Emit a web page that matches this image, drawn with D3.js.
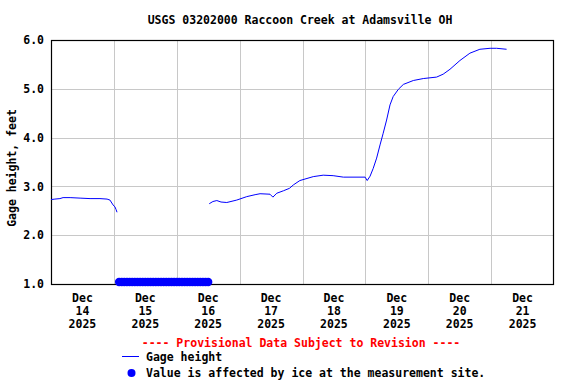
<!DOCTYPE html>
<html><head><meta charset="utf-8">
<script src="https://cdn.jsdelivr.net/npm/d3@7"></script>
<style>
html,body{margin:0;padding:0;background:#fff;}
svg text{font-family:"DejaVu Sans Mono",monospace;font-weight:bold;font-size:11.5px;}
</style></head>
<body>
<script>
// Data: hours since 2025-12-14 00:00 and gage height (feet)
const seg1Hours = [0, 1.5, 3.4, 4.6, 7.3, 11.1, 14.9, 18.7, 21.4, 22.5, 23.7, 24.4, 24.8, 25.2];
const seg1Values = [2.73, 2.74, 2.75, 2.77, 2.77, 2.76, 2.75, 2.75, 2.74, 2.72, 2.62, 2.58, 2.53, 2.47];
const seg2Hours = [60.4, 61.8, 63.3, 64.9, 67.1, 70.9, 74.7, 77.9, 79.8, 83.6, 84.7, 86.2, 88.7, 91.0, 92.5, 95.0, 100.1, 103.9, 107.7, 111.6, 119.9, 120.7, 121.8, 123.0, 124.3, 125.6, 126.8, 128.1, 129.4, 130.6, 132.6, 134.5, 138.3, 142.1, 147.2, 149.7, 152.3, 156.1, 159.9, 163.7, 167.6, 170.1, 173.9];
const seg2Values = [2.645, 2.69, 2.71, 2.68, 2.67, 2.72, 2.79, 2.83, 2.85, 2.84, 2.78, 2.86, 2.91, 2.96, 3.03, 3.12, 3.20, 3.23, 3.22, 3.19, 3.19, 3.12, 3.21, 3.37, 3.58, 3.85, 4.09, 4.36, 4.67, 4.84, 4.99, 5.09, 5.17, 5.21, 5.24, 5.30, 5.40, 5.58, 5.73, 5.81, 5.83, 5.83, 5.81];
const iceHours = [26, 27, 28, 29, 30, 31, 32, 33, 34, 35, 36, 37, 38, 39, 40, 41, 42, 43, 44, 45, 46, 47, 48, 49, 50, 51, 52, 53, 54, 55, 56, 57, 58, 59, 60];
const iceValue = 1.0;
const dayLabels = ["14", "15", "16", "17", "18", "19", "20", "21"];
const monthLabel = "Dec";
const yearLabel = "2025";
const yTicks = [1.0, 2.0, 3.0, 4.0, 5.0, 6.0];
const title = "USGS 03202000 Raccoon Creek at Adamsville OH";
const yLabel = "Gage height, feet";

const W = 576, H = 384;
const m = {l: 51, r: 554, t: 40, b: 284};
const t0 = Date.UTC(2025, 11, 14);
const toDate = h => new Date(t0 + h * 3600000);

const svg = d3.select("body").append("svg").attr("width", W).attr("height", H);

const x = d3.scaleUtc().domain([toDate(0), toDate(192)]).range([m.l, m.r]);
const y = d3.scaleLinear().domain([1, 6]).range([m.b, m.t]);

// grid
const dayTicks = d3.range(1, 8).map(d => toDate(d * 24));
svg.append("g").selectAll("line").data(dayTicks).join("line")
  .attr("x1", d => Math.round(x(d)) + 0.5).attr("x2", d => Math.round(x(d)) + 0.5)
  .attr("y1", m.t).attr("y2", m.b).attr("stroke", "#c8c8c8").attr("stroke-width", 1);
svg.append("g").selectAll("line").data(yTicks.slice(1, -1)).join("line")
  .attr("x1", m.l).attr("x2", m.r)
  .attr("y1", d => Math.round(y(d)) + 0.5).attr("y2", d => Math.round(y(d)) + 0.5)
  .attr("stroke", "#c8c8c8").attr("stroke-width", 1);

// frame
svg.append("rect").attr("x", m.l + 0.5).attr("y", m.t + 0.5)
  .attr("width", m.r - m.l - 1).attr("height", m.b - m.t)
  .attr("fill", "none").attr("stroke", "#000").attr("stroke-width", 1.2);

// y axis labels
const yAxis = d3.axisLeft(y).tickValues(yTicks).tickSize(0).tickPadding(7).tickFormat(d3.format(".1f"));
const ga = svg.append("g").attr("transform", `translate(${m.l},0)`).call(yAxis);
ga.select(".domain").remove();
ga.selectAll("text").attr("fill", "#000").style("font-family", "DejaVu Sans Mono").style("font-size", "11.5px").style("font-weight", "bold");

// x axis labels (noon of each day)
const labelDates = dayLabels.map((d, i) => toDate(i * 24 + 12));
const xl = svg.append("g").selectAll("text").data(labelDates).join("text")
  .attr("x", d => x(d)).attr("y", 302).attr("text-anchor", "middle").attr("fill", "#000");
xl.append("tspan").attr("x", d => x(d)).attr("dy", 0).text(monthLabel);
xl.append("tspan").attr("x", d => x(d)).attr("dy", 13).text((d, i) => dayLabels[i]);
xl.append("tspan").attr("x", d => x(d)).attr("dy", 13).text(yearLabel);

// ice points
svg.append("g").selectAll("circle").data(iceHours).join("circle")
  .attr("cx", d => x(toDate(d))).attr("cy", y(iceValue) - 2).attr("r", 4.2).attr("fill", "#0000ff");

// line segments
const line = d3.line().x(d => x(toDate(d[0]))).y(d => y(d[1]));
[[seg1Hours, seg1Values], [seg2Hours, seg2Values]].forEach(([hs, vs]) => {
  svg.append("path").datum(hs.map((h, i) => [h, vs[i]]))
    .attr("d", line).attr("fill", "none").attr("stroke", "#0000ff").attr("stroke-width", 1);
});

// title
svg.append("text").attr("x", 300).attr("y", 24).attr("text-anchor", "middle").attr("fill", "#000").text(title);

// y label
svg.append("text").attr("transform", "translate(16,168) rotate(-90)").attr("text-anchor", "middle").attr("fill", "#000").text(yLabel);

// legend
svg.append("text").attr("x", 301).attr("y", 347).attr("text-anchor", "middle").attr("fill", "#ff0000")
  .text("---- Provisional Data Subject to Revision ----");
svg.append("line").attr("x1", 122).attr("x2", 139).attr("y1", 356.5).attr("y2", 356.5).attr("stroke", "#0000ff").attr("stroke-width", 1);
svg.append("text").attr("x", 146).attr("y", 361).attr("fill", "#000").text("Gage height");
svg.append("circle").attr("cx", 131.5).attr("cy", 373).attr("r", 4).attr("fill", "#0000ff");
svg.append("text").attr("x", 146).attr("y", 377).attr("fill", "#000").text("Value is affected by ice at the measurement site.");
</script>
</body></html>
